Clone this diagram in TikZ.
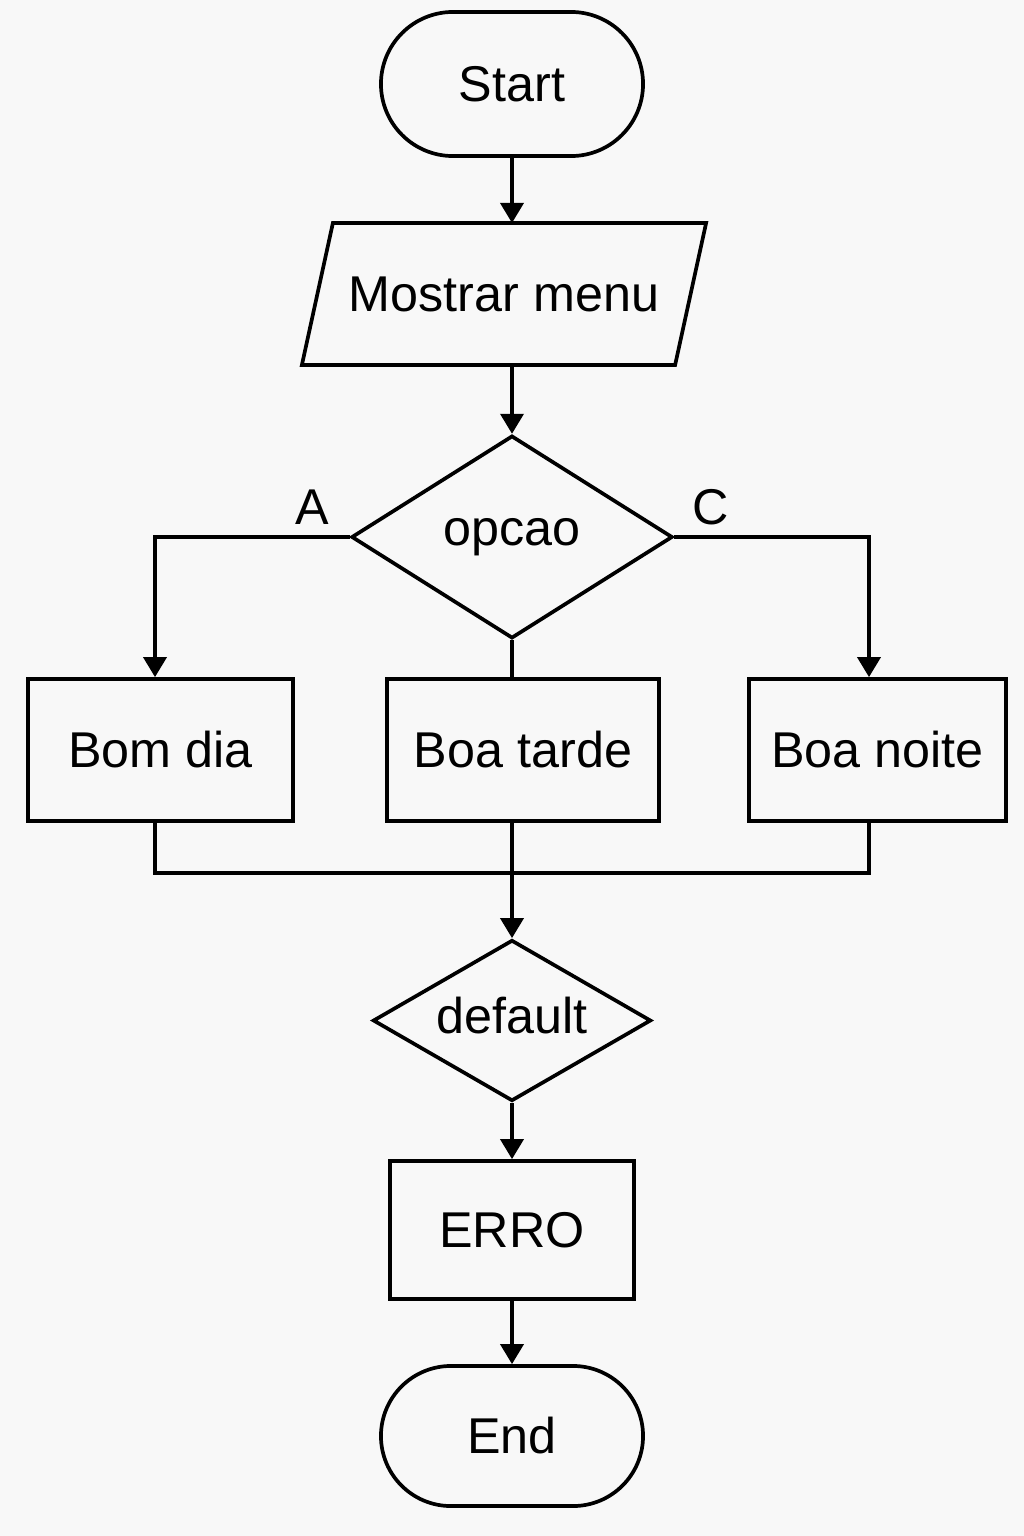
\documentclass[tikz,border=0pt]{standalone}
\usepackage{fontspec}
\setmainfont{Liberation Sans}
\usepackage{tikz}
\usetikzlibrary{shapes, shapes.geometric, shapes.misc}
\usetikzlibrary{arrows,arrows.meta}
\definecolor{paper}{HTML}{F8F8F8}

\begin{document}
\begin{tikzpicture}[x=0.01cm, y=-0.01cm, line width=1.05pt,
  every node/.style={font=\fontsize{14.3}{17}\selectfont, inner sep=2pt},
  term/.style={draw, rounded rectangle, minimum width=2.76cm, minimum height=1.44cm},
  io/.style={rectangle, outer sep=0pt, minimum width=3.73cm, minimum height=1.42cm},
  decide/.style={draw, diamond},
  proc/.style={draw, rectangle, minimum height=1.42cm},
  arr/.style={-{Triangle[length=0.2cm, width=0.23cm]}}]
\fill[paper] (0,0) rectangle (1024,1536);
\useasboundingbox (0,0) rectangle (1024,1536);
% blocks
\node[term] (start) at (512,84) {Start};
\node[io] (menu) at (504,294) {Mostrar menu};
\draw ([xshift=0.155cm]menu.north west) -- ([xshift=0.155cm]menu.north east)
  -- ([xshift=-0.155cm]menu.south east) -- ([xshift=-0.155cm]menu.south west) -- cycle;
\node[decide, minimum width=3.21cm, minimum height=1.94cm] (opcao) at (512,537) {\raisebox{3pt}{opcao}};
\node[proc, minimum width=2.65cm] (bomdia) at (160.5,750) {Bom dia};
\node[proc, minimum width=2.72cm] (boatarde) at (523,750) {Boa tarde};
\node[proc, minimum width=2.57cm] (boanoite) at (877.5,750) {Boa noite};
\node[decide, aspect=1.7, minimum width=2.78cm, minimum height=1.61cm] (default) at (512,1020.5) {\raisebox{3pt}{default}};
\node[proc, minimum width=2.44cm, minimum height=1.38cm] (erro) at (512,1230) {ERRO};
\node[term, minimum height=1.40cm] (end) at (512,1436) {End};
% labels
\node (lblA) at (312,507) {A};
\node (lblC) at (711,507) {C};
% helpers
\coordinate (colA) at (155,0);
\coordinate (colC) at (869,0);
\coordinate (merge) at (512,873);
% connectors
\draw[arr] (start.south) -- (start.south |- menu.north);
\draw[arr] (start.south |- menu.south) -- (opcao.north);
\draw[arr] (opcao.west) -| (colA |- bomdia.north);
\draw[arr] (opcao.east) -| (colC |- boanoite.north);
\draw (opcao.south) -- (opcao.south |- boatarde.north);
\draw (colA |- bomdia.south) |- (colC |- merge) -- (colC |- boanoite.south);
\draw[arr] (opcao.south |- boatarde.south) -- (default.north);
\draw[arr] (default.south) -- (erro.north);
\draw[arr] (erro.south) -- (end.north);
\end{tikzpicture}
\end{document}
